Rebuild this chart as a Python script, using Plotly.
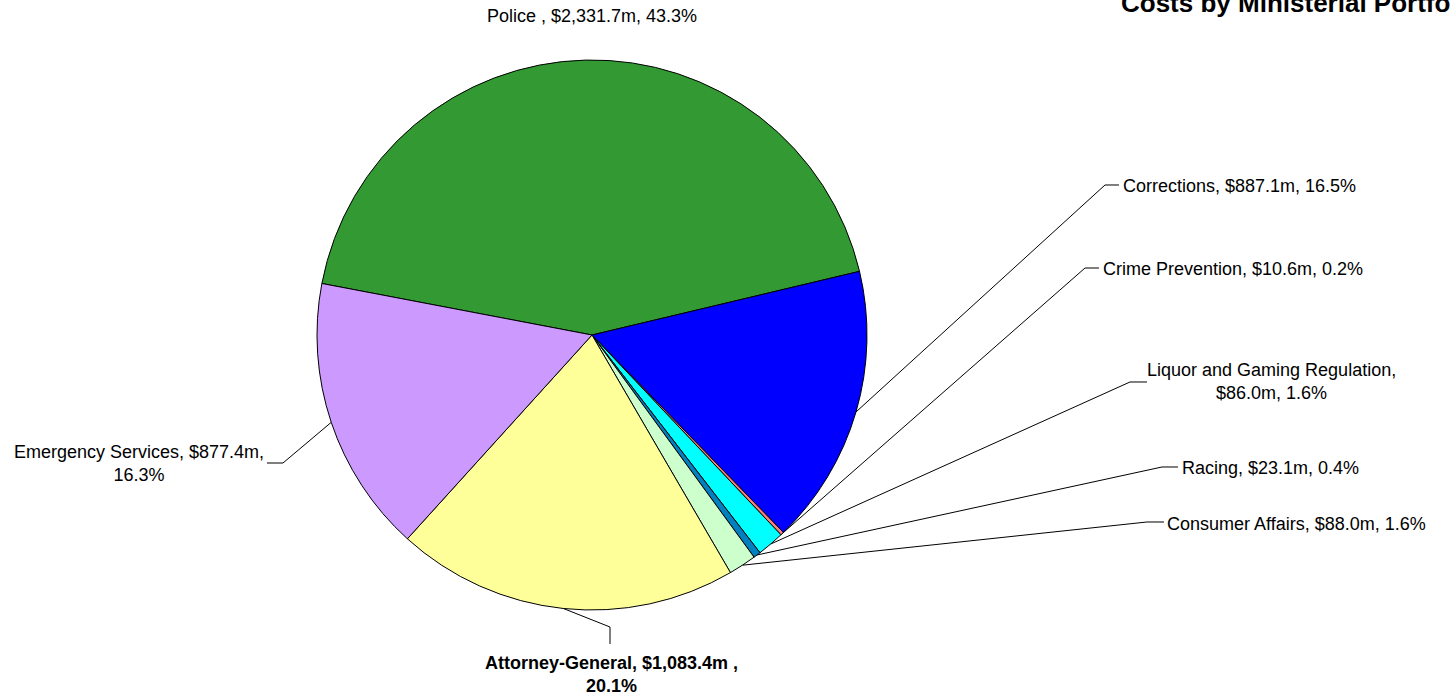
import math
import plotly.graph_objects as go

# ---- data ----
portfolios = ["Police", "Corrections", "Crime Prevention", "Liquor and Gaming Regulation",
              "Racing", "Consumer Affairs", "Attorney-General", "Emergency Services"]
costs_m = [2331.7, 887.1, 10.6, 86.0, 23.1, 88.0, 1083.4, 877.4]
label_texts = [
    "Police , $2,331.7m, 43.3%",
    "Corrections, $887.1m, 16.5%",
    "Crime Prevention, $10.6m, 0.2%",
    "Liquor and Gaming Regulation,<br>$86.0m, 1.6%",
    "Racing, $23.1m, 0.4%",
    "Consumer Affairs, $88.0m, 1.6%",
    "<b>Attorney-General, $1,083.4m ,<br>20.1%</b>",
    "Emergency Services, $877.4m,<br>16.3%",
]
colors = ["#339933", "#0000FF", "#FF8080", "#00FFFF", "#0080C0", "#CCFFCC", "#FFFF99", "#CC99FF"]
title = "Costs by Ministerial Portfolio"

# ---- layout constants (pixels) ----
W, H = 1450, 697
CX, CY, R = 592, 335, 275
ROTATION = 280.8
FONT = "Liberation Sans, Arial, sans-serif"

# label anchors: (x, y, xanchor) and leader elbow points (elbow, end) or None
label_pos = [
    (592, 16, "center", None),
    (1121, 186, "left", [(1105, 185), (1119, 185)]),
    (1101, 269, "left", [(1085, 268), (1099, 268)]),
    (1271, 381, "center", [(1130, 382), (1147, 382)]),
    (1180, 468, "left", [(1162, 467), (1178, 467)]),
    (1165, 524, "left", [(1147, 522), (1164, 522)]),
    (611, 674, "center", [(610, 627), (610, 644)]),
    (139, 464, "center", [(283, 463), (267, 463)]),
]


def px(x):
    return x / W


def py(y):
    return 1 - y / H


fig = go.Figure(go.Pie(
    labels=portfolios, values=costs_m, sort=False, direction="clockwise",
    rotation=ROTATION, textinfo="none", hoverinfo="label+value+percent",
    marker=dict(colors=colors, line=dict(color="#000000", width=1)),
    domain=dict(x=[px(CX - R), px(CX + R)], y=[py(CY + R), py(CY - R)]),
    showlegend=False,
))

total = sum(costs_m)
cum = 0.0
shapes = []
annotations = []
for i, v in enumerate(costs_m):
    mid = ROTATION + (cum + v / 2) / total * 360
    cum += v
    ex = CX + R * math.sin(math.radians(mid))
    ey = CY - R * math.cos(math.radians(mid))
    lx, ly, anchor, leader = label_pos[i]
    if leader:
        pts = [(ex, ey)] + leader
        path = "M " + " L ".join(f"{px(a):.5f},{py(b):.5f}" for a, b in pts)
        shapes.append(dict(type="path", path=path, xref="paper", yref="paper",
                           line=dict(color="#000000", width=1)))
    annotations.append(dict(
        x=px(lx), y=py(ly), xref="paper", yref="paper", text=label_texts[i],
        showarrow=False, xanchor=anchor, yanchor="middle", align="center",
        font=dict(family=FONT, size=18, color="#000000"),
    ))

annotations.append(dict(
    x=px(1119), y=py(3), xref="paper", yref="paper", text="<b>" + title + "</b>",
    showarrow=False, xanchor="left", yanchor="middle",
    font=dict(family=FONT, size=26, color="#000000"),
))

fig.update_layout(
    width=W, height=H, margin=dict(l=0, r=0, t=0, b=0),
    paper_bgcolor="#FFFFFF", plot_bgcolor="#FFFFFF",
    shapes=shapes, annotations=annotations,
)
fig.write_html("out.html")
